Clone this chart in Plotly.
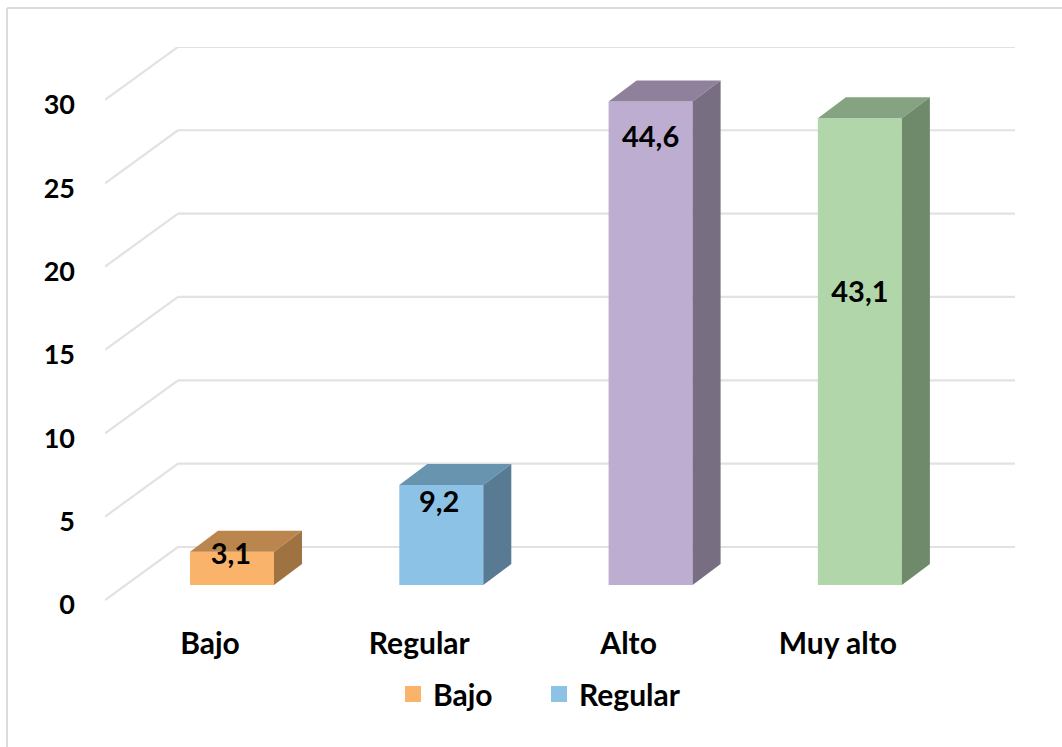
import plotly.graph_objects as go

categories = ["Bajo", "Regular", "Alto", "Muy alto"]
counts = [2, 6, 29, 28]
percent_labels = ["3,1", "9,2", "44,6", "43,1"]
label_heights = [1.7, 4.82, 26.72, 17.44]
label_shift = [-0.005, -0.01, 0.0, 0.0]
y_ticks = [0, 5, 10, 15, 20, 25, 30]
front_colors = ["#FAB36B", "#8CC2E6", "#BDADD0", "#B0D6AA"]
top_colors = ["#BA864D", "#6894AF", "#8F819C", "#86A381"]
side_colors = ["#9E7341", "#587B93", "#786E82", "#6F8A6B"]
legend_names = ["Bajo", "Regular"]

# Plot area in pixels and the projection that gives the bars depth
W, H = 1062, 747
PL, PR, PT, PB = 105, 1015, 47, 605
UNIT_X = 209.3
UNIT_Y = 16.67
BAR_W = 84 / UNIT_X
DX = 28 / UNIT_X
DY = 21 / UNIT_Y
WALL_X = 73 / UNIT_X
X0 = (232 - PL) / UNIT_X
Y_FLOOR = (600 - 585) / UNIT_Y   # wall foot lies below the bar floor
Y_AXIS = (605 - 585) / UNIT_Y    # axis labels sit a little lower still
Y_BACK = (585 - 547) / UNIT_Y    # back wall lies above the bar floor
FONT = "Lato, Open Sans, sans-serif"
GRID = "#E2E2E2"
bold_axis = dict(family=FONT, size=27, color="#000000", weight="bold")
bold_cat = dict(family=FONT, size=30, color="#000000", weight="bold")
bold_val = dict(family=FONT, size=29, color="#000000", weight="bold")

fig = go.Figure()

x_left = -X0
x_right = x_left + (PR - PL) / UNIT_X

# Wall and back gridlines, kept under the bars
for v in y_ticks:
    y_a, y_b = v - Y_FLOOR, v + Y_BACK
    fig.add_shape(type="line", layer="below", xref="x", yref="y",
                  x0=x_left, x1=x_left + WALL_X, y0=y_a, y1=y_b,
                  line=dict(color=GRID, width=2.2))
    fig.add_shape(type="line", layer="below", xref="x", yref="y",
                  x0=x_left + WALL_X, x1=x_right, y0=y_b, y1=y_b,
                  line=dict(color=GRID, width=2.2))

# Bar faces
for i, (cat, n) in enumerate(zip(categories, counts)):
    l = i - BAR_W / 2
    r = i + BAR_W / 2
    fig.add_trace(go.Scatter(
        x=[l, l + DX, r + DX, r, l], y=[n, n + DY, n + DY, n, n],
        fill="toself", fillcolor=top_colors[i], mode="lines",
        line=dict(width=0), hoverinfo="skip", showlegend=False))
    fig.add_trace(go.Scatter(
        x=[r, r + DX, r + DX, r, r], y=[0, DY, n + DY, n, 0],
        fill="toself", fillcolor=side_colors[i], mode="lines",
        line=dict(width=0), hoverinfo="skip", showlegend=False))
    fig.add_trace(go.Bar(
        x=[i], y=[n], width=BAR_W, name=cat,
        marker=dict(color=front_colors[i], line=dict(width=0)),
        showlegend=False))

# Legend entries with large square keys
for name in legend_names:
    i = categories.index(name)
    fig.add_trace(go.Scatter(
        x=[None], y=[None], mode="markers", name=name,
        marker=dict(symbol="square", size=16, color=front_colors[i])))

# Data labels
fig.add_trace(go.Scatter(
    x=[i + s for i, s in enumerate(label_shift)], y=label_heights,
    mode="text", text=percent_labels, textposition="middle center",
    textfont=bold_val, hoverinfo="skip", showlegend=False))

# Outer frame
frame = dict(type="line", xref="paper", yref="paper",
             line=dict(color="#DCDCDC", width=2))
x_px = lambda p: (p - PL) / (PR - PL)
y_px = lambda p: (PB - p) / (PB - PT)
fig.add_shape(**frame, x0=x_px(7), x1=x_px(1062), y0=y_px(8), y1=y_px(8))
fig.add_shape(**frame, x0=x_px(7), x1=x_px(7), y0=y_px(8), y1=y_px(747))

fig.update_layout(
    width=W, height=H,
    margin=dict(l=PL, r=W - PR, t=PT, b=H - PB, pad=0),
    paper_bgcolor="#FFFFFF", plot_bgcolor="rgba(0,0,0,0)",
    barmode="overlay",
    font=dict(family=FONT, size=27, color="#000000"),
    legend=dict(orientation="h", x=x_px(393), xanchor="left",
                y=y_px(668), yanchor="top", itemsizing="trace",
                font=bold_cat, bgcolor="rgba(0,0,0,0)", itemwidth=30,
                entrywidth=101, entrywidthmode="pixels"),
    xaxis=dict(range=[x_left, x_right], tickmode="array",
               tickvals=[i - 22 / UNIT_X for i in range(len(categories))],
               ticktext=categories, showgrid=False, zeroline=False,
               showline=False, ticks="", ticklabelstandoff=18, tickfont=bold_cat),
    yaxis=dict(range=[-Y_AXIS, (PB - PT) / UNIT_Y - Y_AXIS], tickmode="array",
               tickvals=[v - Y_AXIS for v in y_ticks],
               ticktext=[str(v) for v in y_ticks], showgrid=False,
               zeroline=False, showline=False, ticks="", ticklabelstandoff=29,
               tickfont=bold_axis),
)

fig.write_html("out.html", config=dict(displayModeBar=False),
               post_script="document.body.style.margin='0';")
